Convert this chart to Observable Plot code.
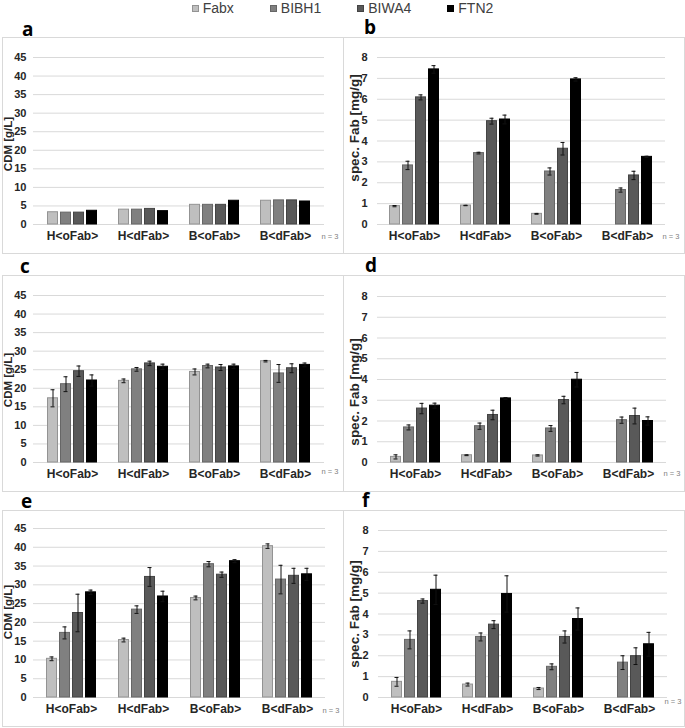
<!DOCTYPE html>
<html><head><meta charset="utf-8">
<script src="https://cdn.jsdelivr.net/npm/d3@7"></script>
<script src="https://cdn.jsdelivr.net/npm/@observablehq/plot@0.6"></script>
<style>
body{margin:0;background:#fff;}
#root{position:relative;width:685px;height:728px;font-family:"Liberation Sans",Arial,sans-serif;overflow:hidden;background:#fff;}
.box{position:absolute;border:1px solid #d9d9d9;box-sizing:border-box;}
.lab{position:absolute;font-family:"Open Sans",sans-serif;font-weight:700;font-size:19px;line-height:19px;color:#000;}
.ylab{position:absolute;white-space:nowrap;font-weight:700;color:#262626;line-height:1;transform:translate(-50%,-50%) rotate(-90deg);}
.legend{position:absolute;top:0;left:0;width:685px;display:flex;justify-content:center;gap:36px;font-size:14px;line-height:16px;color:#404040;}
.legend .it{display:flex;align-items:center;gap:4px;}
.legend .sw{width:7px;height:7px;box-sizing:border-box;}
.pl{position:absolute;}
.pl svg g[aria-label^="x-axis"] text{font-size:12px;}
.pl svg g[aria-label^="y-axis"] text{font-size:11px;}
</style>
</head><body>
<div id="root"></div>
<script>
const categories = ["H<oFab>", "H<dFab>", "B<oFab>", "B<dFab>"];
const series = ["Fabx", "BIBH1", "BIWA4", "FTN2"];
const fills = ["#bfbfbf", "#808080", "#595959", "#000000"];
const strokes = ["#939393", "#666666", "#444444", "#000000"];

const cdmTicks = [0, 5, 10, 15, 20, 25, 30, 35, 40, 45];
const fabTicks = [0, 1, 2, 3, 4, 5, 6, 7, 8];

// rows = series (Fabx, BIBH1, BIWA4, FTN2), columns = categories
const valuesA = [[3.3, 4.0, 5.3, 6.4], [3.2, 4.0, 5.3, 6.5], [3.2, 4.2, 5.3, 6.5], [3.7, 3.6, 6.4, 6.2]];
const errorsA = [[null, null, null, null], [null, null, null, null], [null, null, null, null], [null, null, null, null]];

const valuesB = [[0.88, 0.91, 0.51, null], [2.83, 3.42, 2.54, 1.65], [6.09, 4.95, 3.63, 2.35], [7.43, 5.03, 6.95, 3.24]];
const errorsB = [[0.03, 0.01, 0.02, null], [0.2, 0.04, 0.17, 0.1], [0.12, 0.14, 0.3, 0.2], [0.18, 0.21, 0.08, 0.03]];

const valuesC = [[17.3, 22.0, 24.4, 27.3], [21.1, 25.1, 26.0, 24.0], [24.6, 26.7, 25.6, 25.4], [22.1, 25.8, 25.9, 26.3]];
const errorsC = [[2.3, 0.5, 0.8, 0.2], [2.0, 0.5, 0.5, 2.4], [1.4, 0.6, 0.8, 1.2], [1.5, 0.7, 0.6, 0.5]];

const valuesD = [[0.27, 0.35, 0.34, null], [1.69, 1.75, 1.64, 2.04], [2.6, 2.29, 3.01, 2.24], [2.74, 3.09, 3.99, 2.0]];
const errorsD = [[0.1, 0.02, 0.03, null], [0.12, 0.15, 0.14, 0.15], [0.25, 0.23, 0.18, 0.38], [0.12, 0.04, 0.35, 0.2]];

const valuesE = [[10.3, 15.3, 26.5, 40.3], [17.2, 23.4, 35.5, 31.4], [22.5, 32.1, 32.7, 32.4], [28.0, 26.9, 36.3, 32.8]];
const errorsE = [[0.5, 0.5, 0.5, 0.6], [1.6, 1.0, 0.7, 3.8], [5.0, 2.5, 0.7, 2.0], [0.6, 1.4, 0.4, 1.6]];

const valuesF = [[0.75, 0.62, 0.43, null], [2.76, 2.9, 1.47, 1.67], [4.62, 3.49, 2.9, 1.98], [5.16, 4.96, 3.76, 2.55]];
const errorsF = [[0.21, 0.07, 0.05, null], [0.43, 0.19, 0.14, 0.33], [0.1, 0.19, 0.29, 0.4], [0.7, 0.87, 0.53, 0.57]];

const panelLetters = ["a", "b", "c", "d", "e", "f"];
const cdmLabel = "CDM [g/L]";
const fabLabel = "spec. Fab [mg/g]";
const nNote = "n = 3";

const root = document.getElementById("root");

// legend
const leg = document.createElement("div");
leg.className = "legend";
series.forEach((s, i) => {
  const it = document.createElement("div"); it.className = "it";
  const sw = document.createElement("div"); sw.className = "sw";
  sw.style.background = fills[i]; sw.style.border = "1px solid " + strokes[i];
  const t = document.createElement("span"); t.textContent = s;
  it.appendChild(sw); it.appendChild(t); leg.appendChild(it);
});
root.appendChild(leg);

function makePanel(cfg) {
  const rows = [];
  series.forEach((s, i) => categories.forEach((c, j) => {
    const v = cfg.values[i][j];
    if (v != null) rows.push({s, i, c, v, e: cfg.errors[i][j]});
  }));
  const marks = [Plot.ruleY(cfg.ticks, {stroke: "#d9d9d9", strokeWidth: 1})];
  series.forEach((s, i) => {
    const d = rows.filter(r => r.i === i);
    const dx = (i - 1.5) * 13;
    marks.push(Plot.barY(d, {x: "c", y: "v", fill: fills[i], stroke: strokes[i], strokeWidth: 1, dx}));
    const de = d.filter(r => r.e);
    marks.push(Plot.ruleX(de, {x: "c", y1: r => r.v - r.e, y2: r => r.v + r.e, stroke: "#111", strokeWidth: 1, dx}));
    marks.push(Plot.tickY(de, {x: "c", y: r => r.v + r.e, stroke: "#111", strokeWidth: 1, insetLeft: 3, insetRight: 3, dx}));
    marks.push(Plot.tickY(de, {x: "c", y: r => r.v - r.e, stroke: "#111", strokeWidth: 1, insetLeft: 3, insetRight: 3, dx}));
  });
  marks.push(Plot.text([nNote], {frameAnchor: "bottom-right", text: d => d, textAnchor: "start",
    dx: -3, dy: cfg.nDy, fontSize: 7.5, fontWeight: "normal", fill: "#808080"}));

  const svg = Plot.plot({
    width: cfg.w, height: cfg.h,
    marginLeft: cfg.ml, marginRight: cfg.mr, marginTop: cfg.mt, marginBottom: cfg.mb,
    style: {fontFamily: "'Liberation Sans', Arial, sans-serif", fontWeight: "bold", fontSize: "11px", color: "#262626", background: "transparent", overflow: "visible"},
    x: {domain: categories, paddingInner: 0.855, paddingOuter: 0.45, tickSize: 0, tickPadding: 7, label: null},
    y: {domain: [0, cfg.ticks[cfg.ticks.length - 1]], ticks: cfg.ticks, tickSize: 0, tickPadding: cfg.tp, label: null, tickFormat: d => String(d)},
    marks
  });
  const wrap = document.createElement("div");
  wrap.className = "pl";
  wrap.style.left = cfg.left + "px"; wrap.style.top = cfg.top + "px";
  wrap.appendChild(svg);
  root.appendChild(wrap);

  const box = document.createElement("div");
  box.className = "box";
  box.style.left = cfg.left + "px"; box.style.top = cfg.top + "px";
  box.style.width = (cfg.w + 1) + "px"; box.style.height = (cfg.h + 1) + "px";
  root.insertBefore(box, root.firstChild);

  const yl = document.createElement("div");
  yl.className = "ylab";
  yl.textContent = cfg.label;
  yl.style.fontSize = cfg.labelSize + "px";
  yl.style.left = cfg.lcx + "px"; yl.style.top = cfg.lcy + "px";
  root.appendChild(yl);

  const lab = document.createElement("div");
  lab.className = "lab";
  lab.textContent = cfg.letter;
  lab.style.left = cfg.lx + "px"; lab.style.top = (cfg.ly) + "px";
  root.appendChild(lab);
}

const W = 341, H = 216;
const panels = [
  {values: valuesA, errors: errorsA, ticks: cdmTicks, label: cdmLabel, labelSize: 11.5, lcx: 9, lcy: 144, left: 2, top: 37, ml: 31, mr: 19, mt: 20, mb: 29, tp: 7, nDy: 14, lx: 22, ly: 20},
  {values: valuesB, errors: errorsB, ticks: fabTicks, label: fabLabel, labelSize: 13.5, lcx: 355, lcy: 128, left: 343, top: 37, ml: 34, mr: 19, mt: 20, mb: 29, tp: 10, nDy: 14, lx: 364, ly: 18},
  {values: valuesC, errors: errorsC, ticks: cdmTicks, label: cdmLabel, labelSize: 11.5, lcx: 9, lcy: 380, left: 2, top: 275, ml: 31, mr: 19, mt: 20, mb: 29, tp: 7, nDy: 11, lx: 20, ly: 257},
  {values: valuesD, errors: errorsD, ticks: fabTicks, label: fabLabel, labelSize: 13.5, lcx: 355, lcy: 392, left: 343, top: 275, ml: 34, mr: 18, mt: 21, mb: 29, tp: 10, nDy: 13, lx: 365, ly: 256},
  {values: valuesE, errors: errorsE, ticks: cdmTicks, label: cdmLabel, labelSize: 11.5, lcx: 9, lcy: 612, left: 2, top: 510, ml: 31, mr: 18, mt: 18, mb: 29, tp: 7, nDy: 15, lx: 21, ly: 492},
  {values: valuesF, errors: errorsF, ticks: fabTicks, label: fabLabel, labelSize: 13.5, lcx: 355, lcy: 614, left: 343, top: 510, ml: 35, mr: 17, mt: 20, mb: 29, tp: 10, nDy: 6, lx: 362, ly: 491}
];
panels.forEach((p, k) => makePanel({...p, letter: panelLetters[k], w: W, h: H}));
</script>
</body></html>
